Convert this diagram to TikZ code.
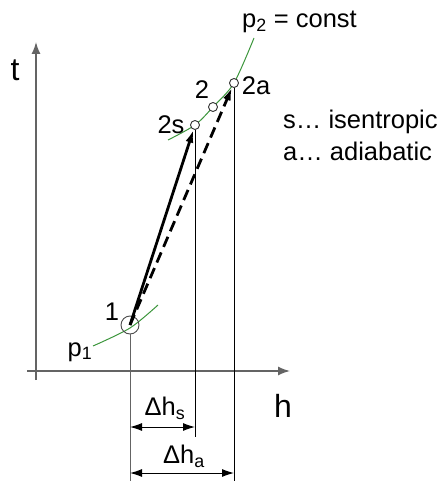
\documentclass[tikz,border=0pt]{standalone}
\usepackage{fontspec}
\setmainfont{Liberation Sans}
\usetikzlibrary{arrows.meta}
\definecolor{curvegreen}{RGB}{60,150,60}
\definecolor{axisgray}{RGB}{100,100,100}
\begin{document}
\begin{tikzpicture}[x=1pt,y=-1pt,
  lbl/.style={inner sep=0pt,font=\fontsize{25.5}{30}\selectfont},
  axlbl/.style={inner sep=0pt,font=\fontsize{32}{36}\selectfont},
  axisline/.style={draw=axisgray,line width=1.5pt,-{Latex[length=12pt,width=9pt]}},
  pt/.style={circle,draw=black!80,fill=white,line width=0.9pt,inner sep=0pt,minimum size=9pt},
  bigpt/.style={circle,draw=black!70,line width=0.9pt,inner sep=0pt,minimum size=18pt},
  isobar/.style={draw=curvegreen,line width=1pt},
  guide/.style={draw=black,line width=0.9pt},
  dim/.style={draw=black,line width=1pt,{Latex[length=12pt,width=8pt]}-{Latex[length=12pt,width=8pt]}},
  proc/.style={draw=black,line width=2.8pt,-{Latex[length=13pt,width=8pt]}},
]
\useasboundingbox (0,0) rectangle (446,481);
% axes
\coordinate (tb) at (36,380);
\coordinate (tt) at (36,42);
\coordinate (hl) at (27,371);
\coordinate (hr) at (290,371);
\draw[axisline] (tb) -- (tt);
\draw[axisline] (hl) -- (hr);
\node[axlbl] (tlab) at (15,70) {t};
\node[axlbl] (hlab) at (283,406) {h};
% isobars
\draw[isobar] plot[smooth] coordinates {(93,346) (130,328) (158,305)};
\draw[isobar] plot[smooth] coordinates {(168,140) (195,125) (213,107) (234,83) (254,38)};
% points
\node[bigpt] (p1) at (130,325) {};
\node[pt] (p2s) at (195,125) {};
\node[pt] (p2) at (213,107) {};
\node[pt] (p2a) at (234,83) {};
% guide lines
\coordinate (e1) at (130,481);
\coordinate (e2s) at (195,437);
\coordinate (e2a) at (234,481);
\draw[draw=axisgray,line width=0.9pt] (p1.south) -- (e1);
\draw[guide] (p2s.south) -- (e2s);
\draw[guide] (p2a.south) -- (e2a);
% processes
\draw[proc] (p1.center) -- (p2s);
\draw[proc,dash pattern=on 11pt off 6pt] (p1.center) -- (p2a);
% dimension arrows
\coordinate (ds1) at (130,427);
\coordinate (ds2) at (195,427);
\coordinate (da1) at (130,473);
\coordinate (da2) at (234,473);
\draw[dim] (ds1) -- (ds2);
\draw[dim] (da1) -- (da2);
\node[lbl] (dhs) at (165,408) {Δh\textsubscript{s}};
\node[lbl] (dha) at (184,456) {Δh\textsubscript{a}};
% labels
\node[lbl] (l1) at (112,312) {1};
\node[lbl] (lp1) at (80,352) {p\textsubscript{1}};
\node[lbl] (l2s) at (171,125) {2s};
\node[lbl] (l2) at (202,90) {2};
\node[lbl] (l2a) at (256,86) {2a};
\node[lbl,anchor=west] (lp2) at (242,22) {p\textsubscript{2} = const};
\node[lbl,anchor=west] (ls) at (283,122) {s… isentropic};
\node[lbl,anchor=west] (la) at (283,151) {a… adiabatic};
\end{tikzpicture}
\end{document}
